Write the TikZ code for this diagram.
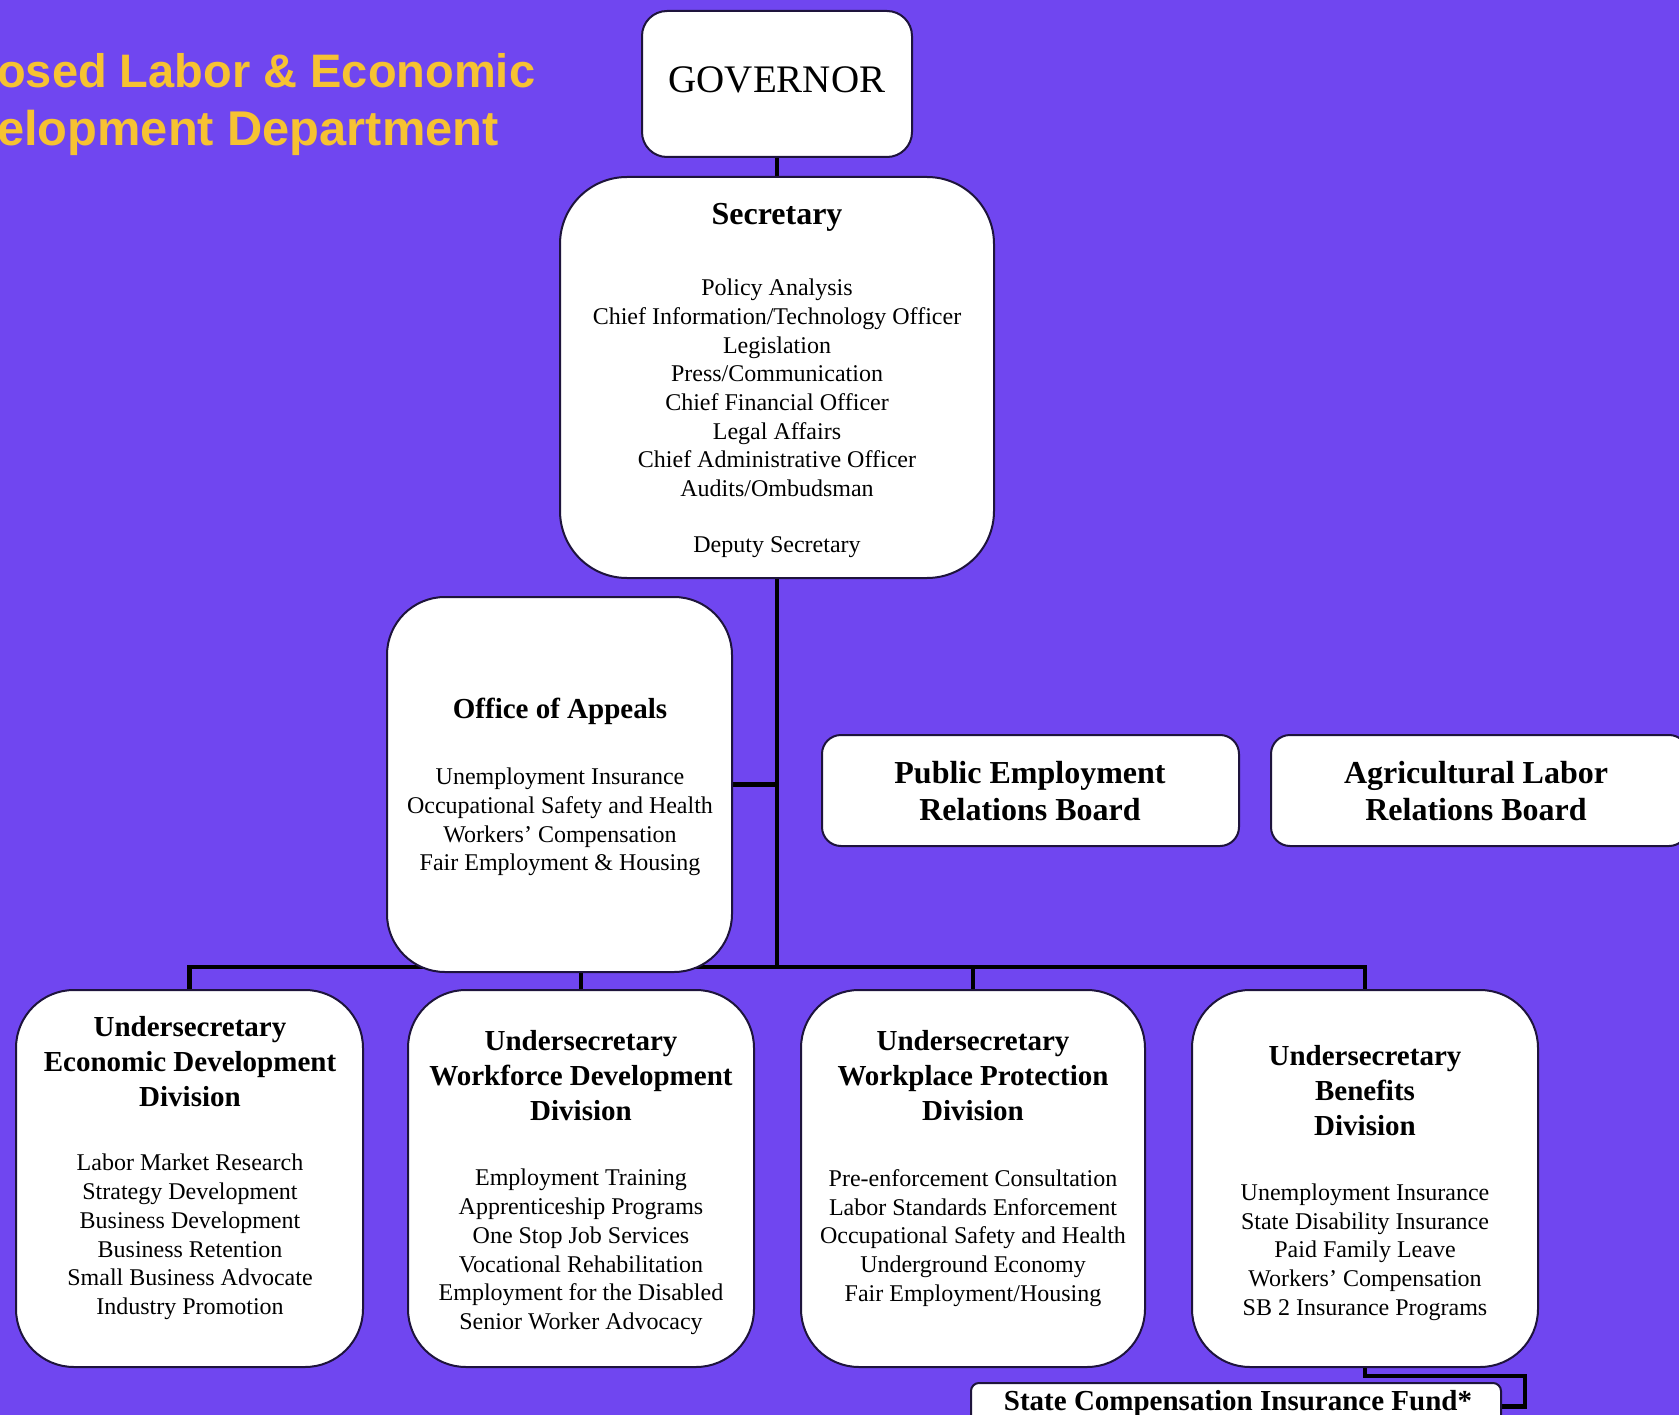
\documentclass[tikz,border=0pt]{standalone}
\usepackage{fontspec}
\setmainfont{Liberation Serif}
\newfontfamily\titlefont{Liberation Sans}
\definecolor{bgc}{RGB}{112,70,240}
\definecolor{titlec}{RGB}{246,194,50}
\definecolor{edgec}{RGB}{30,20,60}
\pgfdeclarelayer{backfill}
\pgfdeclarelayer{lines}
\pgfsetlayers{backfill,lines,main}
\tikzset{
  box/.style={draw=edgec, line width=2pt, fill=white, inner sep=0pt},
  conn/.style={draw=black, line width=4.5pt, line join=miter},
  txt/.style={inner sep=0pt, align=center, text=black},
  bodytxt/.style={txt, font=\fontsize{24}{28.7}\selectfont},
  headtxt/.style={txt, font=\bfseries\fontsize{29}{35}\selectfont},
  titletxt/.style={anchor=base west, inner sep=0pt, text=titlec, font=\titlefont\bfseries\fontsize{47}{58}\selectfont},
}
\begin{document}
\begin{tikzpicture}[x=1pt,y=-1pt]
\useasboundingbox (0,0) rectangle (1679,1415);
\begin{pgfonlayer}{backfill}
\fill[bgc] (0,0) rectangle (1679,1415);
\end{pgfonlayer}
\clip (0,0) rectangle (1679,1415);

% title
\node[titletxt] (t1) at (-3,88) {osed Labor \& Economic};
\node[titletxt, font=\titlefont\bfseries\fontsize{48.8}{58}\selectfont] (t2) at (-3,146) {elopment Department};

% boxes
\node[box, minimum width=270, minimum height=146, rounded corners=25] (gov) at (777,84) {};
\node[box, minimum width=434, minimum height=401, rounded corners=67] (sec) at (777,377.5) {};
\node[box, minimum width=345, minimum height=375, rounded corners=58] (off) at (559.5,784.5) {};
\node[box, minimum width=417, minimum height=111, rounded corners=19] (perb) at (1030.5,790.5) {};
\node[box, minimum width=417, minimum height=111, rounded corners=19] (alrb) at (1479.5,790.5) {};
\node[box, minimum width=347, minimum height=377, rounded corners=58] (econ) at (189.5,1178.5) {};
\node[box, minimum width=346, minimum height=377, rounded corners=58] (work) at (581,1178.5) {};
\node[box, minimum width=344, minimum height=377, rounded corners=58] (wplc) at (973,1178.5) {};
\node[box, minimum width=346, minimum height=377, rounded corners=58] (ben) at (1365,1178.5) {};
\node[box, minimum width=530, minimum height=47, rounded corners=8] (scif) at (1236,1406.5) {};

\coordinate (bus) at (777,967);
\coordinate (sbend) at (1525,1376);

% connectors behind boxes
\begin{pgfonlayer}{lines}
\draw[conn] (gov.south) -- (sec.north);
\draw[conn] (sec.south) -- (bus);
\draw[conn] (off.east) -- (off.east -| bus);
\draw[conn] (econ.north) -- (econ.north |- bus) -- (ben.north |- bus) -- (ben.north);
\draw[conn] (work.north) -- (work.north |- bus);
\draw[conn] (wplc.north) -- (wplc.north |- bus);
\draw[conn] (ben.south) |- (sbend) |- (scif.east);
\end{pgfonlayer}

% texts
\node[txt, font=\fontsize{39}{44}\selectfont] (govt) at (777,80) {GOVERNOR};

\node[txt, font=\bfseries\fontsize{32}{36}\selectfont] (sech) at (777,217) {Secretary};
\node[bodytxt] (secb) at (777,388) {Policy Analysis\\Chief Information/Technology Officer\\Legislation\\Press/Communication\\Chief Financial Officer\\Legal Affairs\\Chief Administrative Officer\\Audits/Ombudsman};
\node[bodytxt] (secd) at (777,547) {Deputy Secretary};

\node[headtxt] (offh) at (560,711) {Office of Appeals};
\node[bodytxt] (offb) at (560,822) {Unemployment Insurance\\Occupational Safety and Health\\Workers’ Compensation\\Fair Employment \& Housing};

\node[txt, font=\bfseries\fontsize{32}{37.5}\selectfont] (perbt) at (1030,791) {Public Employment\\Relations Board};
\node[txt, font=\bfseries\fontsize{32}{37.5}\selectfont] (alrbt) at (1476,791) {Agricultural Labor\\Relations Board};

\node[headtxt] (econh) at (190,1062) {Undersecretary\\Economic Development\\Division};
\node[bodytxt] (econb) at (190,1237) {Labor Market Research\\Strategy Development\\Business Development\\Business Retention\\Small Business Advocate\\Industry Promotion};

\node[headtxt] (workh) at (581,1076) {Undersecretary\\Workforce Development\\Division};
\node[bodytxt] (workb) at (581,1252) {Employment Training\\Apprenticeship Programs\\One Stop Job Services\\Vocational Rehabilitation\\Employment for the Disabled\\Senior Worker Advocacy};

\node[headtxt] (wplch) at (973,1076) {Undersecretary\\Workplace Protection\\Division};
\node[bodytxt] (wplcb) at (973,1238) {Pre-enforcement Consultation\\Labor Standards Enforcement\\Occupational Safety and Health\\Underground Economy\\Fair Employment/Housing};

\node[headtxt] (benh) at (1365,1091) {Undersecretary\\Benefits\\Division};
\node[bodytxt] (benb) at (1365,1252) {Unemployment Insurance\\State Disability Insurance\\Paid Family Leave\\Workers’ Compensation\\SB 2 Insurance Programs};

\node[txt, font=\bfseries\fontsize{29}{34}\selectfont] (sciftxt) at (1238,1404) {State Compensation Insurance Fund*};
\end{tikzpicture}
\end{document}
